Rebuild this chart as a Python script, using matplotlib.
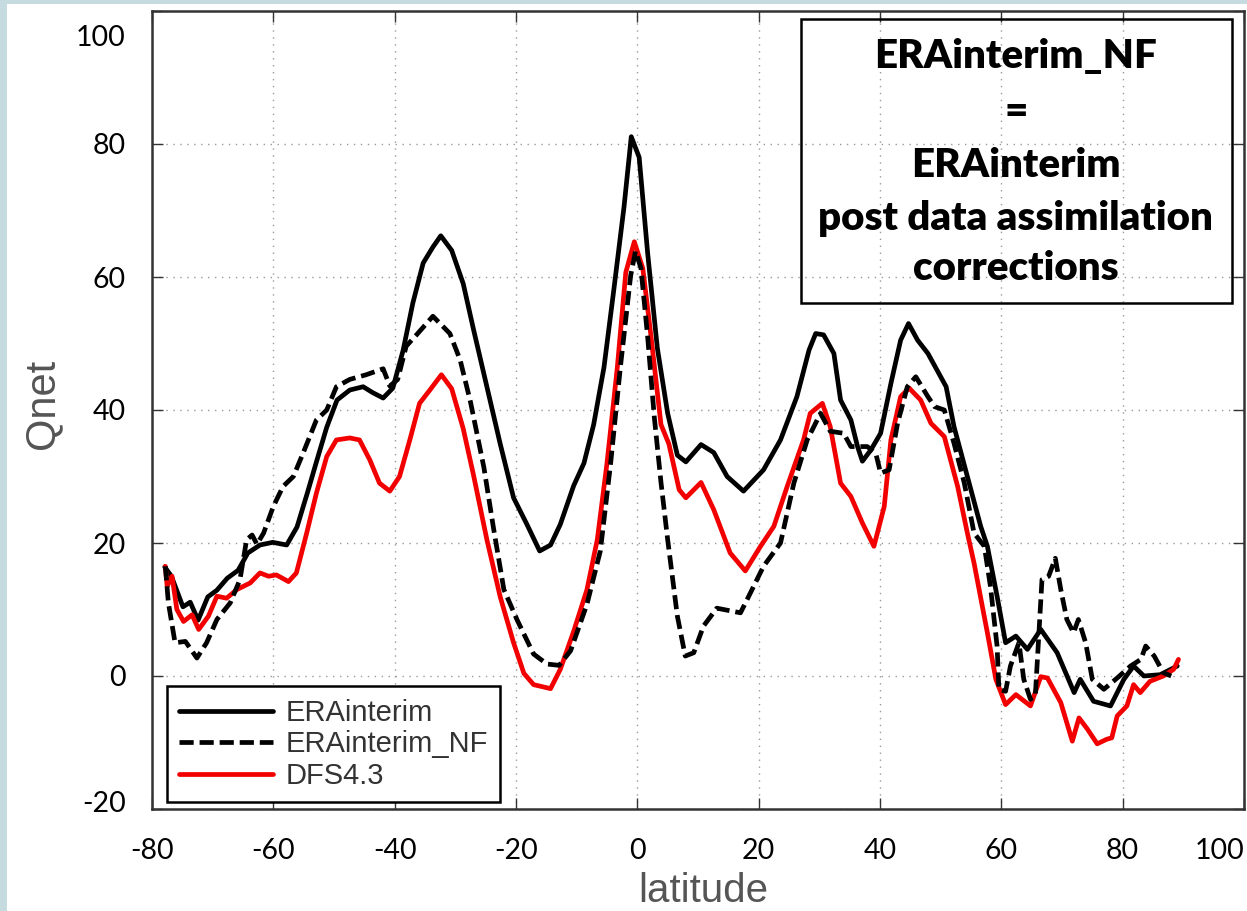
import matplotlib
matplotlib.use('Agg')
import matplotlib.pyplot as plt
from matplotlib.patches import Rectangle
from matplotlib.transforms import ScaledTranslation

plt.rcParams['axes.unicode_minus'] = False

# ---------------- data ----------------
lat_era = [-77.9, -76.8, -74.9, -73.7, -72.4, -70.8, -69.3, -67.6, -65.8, -64.2,
           -62.2, -60.1, -57.8, -56.1, -54.4, -52.8, -51.2, -49.5, -47.4, -45.2,
           -43.6, -41.9, -40.3, -38.6, -37.0, -35.3, -33.7, -32.4, -30.6, -28.7,
           -27.0, -24.8, -22.6, -20.4, -18.2, -16.1, -14.3, -12.7, -10.5, -8.8,
           -7.2, -5.5, -3.9, -2.2, -1.0, 0.3, 1.7, 3.3, 5.0, 6.6,
           8.0, 10.5, 12.6, 14.8, 17.5, 20.8, 23.6, 26.3, 28.3, 29.4,
           30.7, 32.4, 33.5, 35.2, 36.3, 37.1, 38.5, 40.1, 41.8, 43.4,
           44.7, 46.2, 47.9, 50.9, 52.2, 54.4, 56.6, 57.7, 59.3, 60.7,
           62.4, 64.3, 66.5, 69.2, 72.0, 73.0, 75.2, 78.0, 80.2, 81.8,
           83.5, 86.2, 89.0]
q_era = [16.4, 15.0, 10.4, 11.1, 8.4, 11.9, 12.9, 14.7, 15.9, 18.5,
         19.7, 20.1, 19.7, 22.4, 27.5, 32.5, 37.4, 41.5, 43.0, 43.5,
         42.6, 41.8, 43.3, 49.0, 56.1, 62.1, 64.5, 66.2, 64.0, 59.0,
         52.1, 43.5, 34.9, 26.8, 22.8, 18.8, 19.7, 22.8, 28.6, 32.0,
         37.8, 46.4, 57.9, 70.5, 81.1, 78.0, 63.6, 49.3, 39.5, 33.2,
         32.2, 34.8, 33.6, 30.0, 27.8, 31.0, 35.5, 42.0, 49.0, 51.5,
         51.3, 48.5, 41.5, 38.5, 34.5, 32.3, 34.0, 36.5, 44.0, 50.5,
         53.0, 50.5, 48.5, 43.5, 37.5, 30.0, 22.5, 19.5, 12.0, 5.0,
         6.0, 4.0, 7.0, 3.5, -2.5, -0.5, -3.8, -4.5, -0.5, 1.5,
         0.0, 0.2, 1.5]

lat_nf = [-77.8, -77.3, -76.2, -74.5, -72.6, -71.0, -69.3, -67.1, -65.5, -64.4,
          -63.5, -62.7, -61.6, -60.0, -58.4, -56.7, -55.1, -52.9, -51.2, -49.6,
          -47.4, -44.7, -41.9, -40.8, -39.5, -38.1, -36.4, -33.7, -30.9, -29.2,
          -27.5, -25.3, -23.7, -22.0, -19.8, -17.1, -14.9, -12.9, -11.0, -8.3,
          -6.1, -4.4, -2.8, -1.1, -0.3, 0.6, 1.7, 2.8, 3.9, 5.0,
          6.6, 7.9, 9.3, 10.9, 13.1, 17.0, 18.1, 20.8, 23.6, 25.8,
          28.0, 30.2, 31.8, 34.0, 35.2, 37.9, 39.3, 40.1, 41.5, 42.9,
          44.5, 45.9, 47.9, 49.0, 50.6, 52.2, 53.9, 55.5, 57.2, 58.2,
          59.3, 59.6, 60.7, 61.5, 62.9, 63.7, 64.8, 65.6, 66.2, 66.7,
          67.8, 68.9, 69.8, 70.8, 71.9, 72.7, 73.9, 75.0, 76.9, 79.1,
          81.3, 83.0, 83.8, 85.2, 86.7, 88.0]
q_nf = [16.5, 11.0, 5.0, 5.2, 2.7, 5.0, 8.5, 11.0, 14.5, 20.5,
        21.2, 19.8, 21.5, 25.5, 28.5, 30.0, 33.5, 38.5, 40.0, 43.5,
        44.6, 45.3, 46.2, 43.6, 44.6, 49.6, 51.3, 54.1, 51.5, 47.5,
        41.2, 31.4, 22.2, 13.0, 8.4, 3.3, 1.8, 1.6, 3.8, 10.8,
        18.8, 32.0, 46.4, 60.2, 63.9, 61.3, 51.0, 38.9, 29.1, 20.5,
        9.0, 3.0, 3.5, 7.5, 10.2, 9.5, 11.5, 16.5, 20.0, 29.0,
        35.5, 39.5, 36.8, 36.5, 34.5, 34.5, 33.5, 30.5, 31.0, 38.0,
        43.5, 45.0, 42.0, 40.5, 40.0, 35.0, 29.0, 21.5, 19.5, 13.5,
        4.5, -2.0, -2.3, 1.5, 5.0, -0.5, -3.5, -3.0, 6.5, 14.5,
        15.0, 17.7, 13.0, 8.5, 6.5, 8.5, 5.0, -0.5, -2.0, -0.3,
        1.5, 2.5, 4.5, 3.0, 0.5, 0.0]

lat_dfs = [-77.8, -77.5, -76.7, -75.9, -74.8, -73.4, -72.3, -70.7, -69.3, -67.7,
           -66.0, -63.8, -62.2, -60.8, -59.5, -57.5, -56.2, -54.5, -52.9, -51.2,
           -49.6, -47.4, -45.8, -44.1, -42.5, -40.8, -39.2, -37.5, -35.9, -34.2,
           -32.3, -30.6, -28.7, -27.0, -24.8, -22.6, -20.4, -18.7, -17.1, -14.3,
           -12.7, -10.5, -8.3, -6.6, -5.0, -3.3, -1.9, -0.5, 0.9, 2.2,
           3.9, 5.2, 6.9, 8.0, 10.5, 12.6, 15.3, 17.8, 20.3, 22.5,
           24.7, 27.4, 28.5, 30.5, 31.8, 33.5, 35.2, 37.1, 39.0, 40.7,
           41.8, 43.4, 44.8, 46.7, 48.4, 50.6, 52.8, 54.4, 55.5, 57.7,
           59.1, 60.7, 62.4, 64.8, 66.5, 67.6, 69.8, 71.7, 72.8, 74.2,
           75.8, 77.4, 78.2, 79.1, 80.7, 81.8, 82.9, 84.5, 86.7, 88.4,
           89.2]
q_dfs = [16.5, 13.5, 15.0, 10.0, 8.2, 9.2, 7.0, 9.0, 12.0, 11.7,
         13.0, 14.0, 15.5, 15.0, 15.2, 14.2, 15.5, 21.5, 27.5, 33.0,
         35.5, 35.8, 35.5, 32.5, 29.0, 27.8, 30.0, 35.5, 41.0, 43.0,
         45.3, 43.2, 37.2, 30.2, 20.5, 11.9, 5.0, 0.4, -1.3, -1.9,
         1.0, 6.7, 13.0, 20.5, 32.0, 46.4, 60.7, 65.3, 61.3, 51.5,
         37.8, 34.9, 28.0, 26.8, 29.1, 25.0, 18.5, 15.8, 19.5, 22.5,
         28.5, 35.5, 39.5, 41.0, 37.5, 29.0, 27.0, 23.0, 19.5, 25.5,
         35.5, 42.0, 43.3, 41.5, 38.0, 36.0, 28.5, 21.5, 17.0, 6.5,
         -0.5, -4.3, -2.8, -4.5, -0.1, -0.3, -4.0, -9.8, -6.3, -8.0,
         -10.2, -9.5, -9.3, -6.0, -4.5, -1.3, -2.5, -0.8, 0.0, 1.0,
         2.5]

series_labels = ['ERAinterim', 'ERAinterim_NF', 'DFS4.3']
x_ticks = [-80, -60, -40, -20, 0, 20, 40, 60, 80, 100]
y_ticks = [-20, 0, 20, 40, 60, 80, 100]
note_lines = ['ERAinterim_NF', '=', 'ERAinterim', 'post data assimilation', 'corrections']

# ---------------- figure ----------------
W, H = 1247, 911
fig = plt.figure(figsize=(W / 100, H / 100), dpi=100, facecolor='#c6dbe0')
bg = Rectangle((7 / W, 0), 1, (H - 4) / H, transform=fig.transFigure,
               facecolor='white', edgecolor='none', zorder=-10)
fig.add_artist(bg)

ax = fig.add_axes([152 / W, 102 / H, 1092 / W, 798 / H])
ax.set_zorder(1)
ax.set_facecolor('white')
ax.set_xlim(-80, 100)
ax.set_ylim(-20, 100)

LW = 3.4
l1, = ax.plot(lat_era, q_era, color='black', lw=LW, solid_joinstyle='round',
              solid_capstyle='round', zorder=3)
l3, = ax.plot(lat_dfs, q_dfs, color='#f20000', lw=LW, solid_joinstyle='round',
              solid_capstyle='round', zorder=3)
l2, = ax.plot(lat_nf, q_nf, color='black', lw=LW, linestyle=(0, (3.0, 1.25)), zorder=4)

ax.grid(True, linestyle=(0, (1, 4)), color='#9a9a9a', linewidth=1)
ax.set_xticks(x_ticks)
ax.set_yticks(y_ticks)
ax.tick_params(direction='in', length=8, width=1, top=True, right=True,
               labelsize=20.5, color='#333333')
ax.tick_params(axis='x', pad=21)
ax.tick_params(axis='y', pad=19)
for sp in ax.spines.values():
    sp.set_color('#333333')
    sp.set_linewidth(1.8)

for lab in ax.get_xticklabels() + ax.get_yticklabels():
    lab.set_fontfamily('Lato')
xl = ax.get_xticklabels()
xl[-1].set_horizontalalignment('right')
yl = ax.get_yticklabels()
yl[-1].set_transform(yl[-1].get_transform() + ScaledTranslation(0, -0.24, fig.dpi_scale_trans))
yl[0].set_transform(yl[0].get_transform() + ScaledTranslation(0, 0.07, fig.dpi_scale_trans))

ax.set_xlabel('latitude', fontsize=29, color='#555555', family='Liberation Sans',
              va='baseline')
ax.xaxis.set_label_coords(0.505, (809 - 902) / 798)
ax.set_ylabel('Qnet', fontsize=30, color='#555555', family='Liberation Sans')
ax.yaxis.set_label_coords(-0.082, 0.508)

leg = ax.legend([l1, l2, l3], series_labels, loc='lower left',
                bbox_to_anchor=(0.0137, 0.0088), borderaxespad=0,
                prop={'family': 'Liberation Sans', 'size': 21},
                frameon=True, fancybox=False, edgecolor='black', framealpha=1,
                handlelength=3.2, handletextpad=0.45, labelspacing=0.12, borderpad=0.42)
leg.get_frame().set_linewidth(1.8)
for t in leg.get_texts():
    t.set_color('#333333')

# annotation box
ax.add_patch(Rectangle((0.594, 0.634), 0.395, 0.356, transform=ax.transAxes,
                       fill=False, edgecolor='black', lw=1.8, zorder=5, clip_on=False))
line_y = [0.9424, 0.8734, 0.8070, 0.7406, 0.6779]
for txt, yy in zip(note_lines, line_y):
    ax.text(0.791, yy, txt, transform=ax.transAxes, ha='center', va='center',
            fontsize=29, fontweight='heavy', family='Lato', color='black', zorder=6)

fig.savefig('out.png', dpi=100, facecolor=fig.get_facecolor())
